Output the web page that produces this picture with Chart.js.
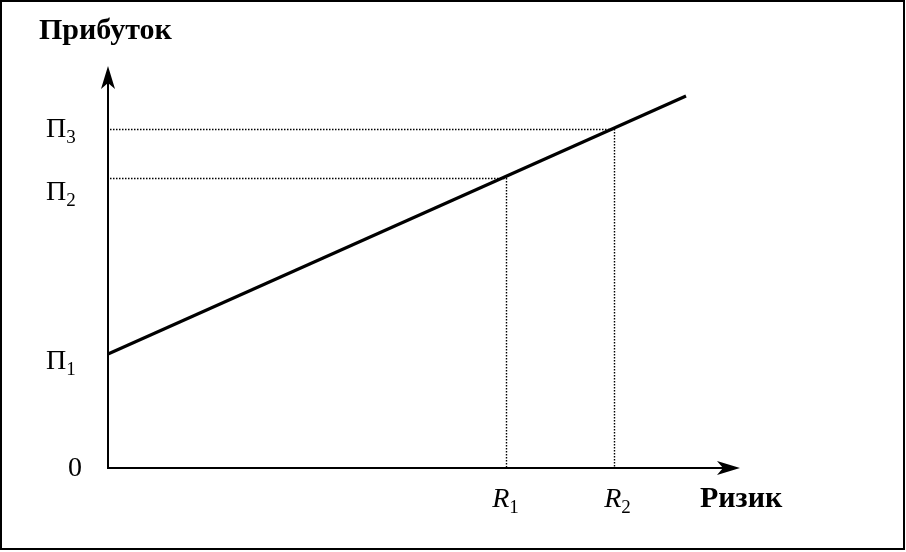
<!DOCTYPE html>
<html>
<head>
<meta charset="utf-8">
<script src="https://cdn.jsdelivr.net/npm/chart.js@4"></script>
<style>
  html, body { margin: 0; padding: 0; background: #fff; }
  #wrap { width: 906px; height: 552px; }
</style>
</head>
<body>
<div id="wrap"><canvas id="c" width="906" height="552"></canvas></div>
<script>
// ---- data ----
const yAxisTitle = 'Прибуток';
const xAxisTitle = 'Ризик';
const profitNames = ['П', 'П', 'П'];
const profitSubs = ['1', '2', '3'];
const profitValues = [1.14, 2.895, 3.385];
const riskNames = ['R', 'R'];
const riskSubs = ['1', '2'];
const riskValues = [3.985, 5.065];
const lineX = [0, 5.78];
const lineY = [1.14, 3.72];
const zeroLabel = '0';

// ---- styles ----
const FONT = '"Liberation Serif", "DejaVu Serif", serif';
const profitBaseDy = [15, 21, 7];   // label baseline offset (px) from its level
const riskDx = [-1, 3];

const mainLine = lineX.map((x, i) => ({ x: x, y: lineY[i] }));
const guide2 = [
  { x: 0.02, y: profitValues[2] }, { x: riskValues[1], y: profitValues[2] }, { x: riskValues[1], y: 0 }
];
const guide1 = [
  { x: 0.02, y: profitValues[1] }, { x: riskValues[0], y: profitValues[1] }, { x: riskValues[0], y: 0 }
];

function arrowHead(ctx, tipX, tipY, dir) {
  const L = 23, W = 7, N = 6;
  ctx.beginPath();
  if (dir === 'up') {
    ctx.moveTo(tipX, tipY);
    ctx.lineTo(tipX - W, tipY + L);
    ctx.lineTo(tipX, tipY + L - N);
    ctx.lineTo(tipX + W, tipY + L);
  } else {
    ctx.moveTo(tipX, tipY);
    ctx.lineTo(tipX - L, tipY - W);
    ctx.lineTo(tipX - L + N, tipY);
    ctx.lineTo(tipX - L, tipY + W);
  }
  ctx.closePath();
  ctx.fill();
}

function labelWithSub(ctx, main, sub, x, y, italic, align) {
  const mainFont = (italic ? 'italic ' : '') + '28px ' + FONT;
  const subFont = '19px ' + FONT;
  ctx.font = mainFont;
  const w1 = ctx.measureText(main).width;
  ctx.font = subFont;
  const w2 = ctx.measureText(sub).width;
  const total = w1 + w2;
  let left = x;
  if (align === 'center') left = x - total / 2;
  else if (align === 'right') left = x - total;
  ctx.textAlign = 'left';
  ctx.textBaseline = 'alphabetic';
  ctx.font = mainFont;
  ctx.fillText(main, left, y);
  ctx.font = subFont;
  ctx.fillText(sub, left + w1, y + 6);
}

const decor = {
  id: 'decor',
  beforeDraw(chart) {
    const ctx = chart.ctx;
    ctx.save();
    ctx.fillStyle = '#fff';
    ctx.fillRect(0, 0, chart.width, chart.height);
    ctx.restore();
  },
  afterDatasetsDraw(chart) {
    const ctx = chart.ctx;
    const xs = chart.scales.x, ys = chart.scales.y;
    const x0 = xs.getPixelForValue(0), y0 = ys.getPixelForValue(0);
    const xTip = xs.getPixelForValue(xs.max) + 2;
    const yTip = ys.getPixelForValue(ys.max) - 2;
    ctx.save();
    ctx.strokeStyle = '#000';
    ctx.fillStyle = '#000';
    // frame
    ctx.lineWidth = 2;
    ctx.strokeRect(1, 1, chart.width - 3, chart.height - 4);
    // axes
    ctx.lineWidth = 2;
    ctx.beginPath();
    ctx.moveTo(x0, y0);
    ctx.lineTo(x0, yTip + 10);
    ctx.moveTo(x0 - 1, y0);
    ctx.lineTo(xTip - 10, y0);
    ctx.stroke();
    arrowHead(ctx, x0, yTip, 'up');
    arrowHead(ctx, xTip, y0, 'right');
    // titles
    ctx.font = 'bold 30px ' + FONT;
    ctx.textAlign = 'left';
    ctx.textBaseline = 'alphabetic';
    ctx.fillText(yAxisTitle, 39, 39);
    ctx.fillText(xAxisTitle, 700, 507);
    // zero
    ctx.font = '28px ' + FONT;
    ctx.textAlign = 'right';
    ctx.fillText(zeroLabel, x0 - 26, y0 + 8);
    // profit labels
    profitValues.forEach((v, i) => {
      const py = Math.round(ys.getPixelForValue(v));
      labelWithSub(ctx, profitNames[i], profitSubs[i], 46, py + profitBaseDy[i], false, 'left');
    });
    // risk labels
    riskValues.forEach((v, i) => {
      const px = xs.getPixelForValue(v);
      labelWithSub(ctx, riskNames[i], riskSubs[i], px + riskDx[i], 507, true, 'center');
    });
    ctx.restore();
  }
};

new Chart(document.getElementById('c'), {
  type: 'scatter',
  data: {
    datasets: [
      { data: guide2, showLine: true, borderColor: '#000', borderWidth: 1.4, borderDash: [1.5, 1.5], pointRadius: 0, tension: 0 },
      { data: guide1, showLine: true, borderColor: '#000', borderWidth: 1.4, borderDash: [1.5, 1.5], pointRadius: 0, tension: 0 },
      { data: mainLine, showLine: true, borderColor: '#000', borderWidth: 3.2, pointRadius: 0, tension: 0, borderCapStyle: 'butt' }
    ]
  },
  options: {
    responsive: false,
    animation: false,
    events: [],
    layout: { padding: { left: 108, right: 168, top: 68, bottom: 84 } },
    plugins: { legend: { display: false }, tooltip: { enabled: false }, title: { display: false } },
    scales: {
      x: { type: 'linear', min: 0, max: 6.3, display: false },
      y: { type: 'linear', min: 0, max: 4.0, display: false }
    }
  },
  plugins: [decor]
});
</script>
</body>
</html>
